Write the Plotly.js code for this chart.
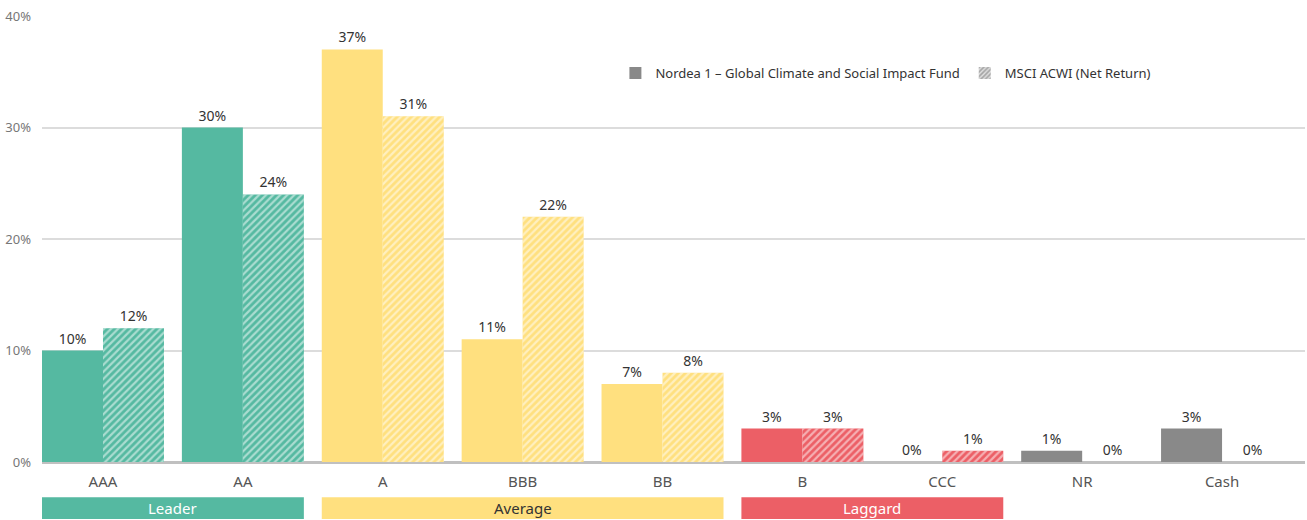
<!DOCTYPE html>
<html>
<head>
<meta charset="utf-8">
<script src="https://cdn.plot.ly/plotly-3.0.1.min.js"></script>
<style>html,body{margin:0;padding:0;background:#fff;}#chart{width:1307px;height:520px;}</style>
</head>
<body>
<div id="chart"></div>
<script>
const categories = ['AAA', 'AA', 'A', 'BBB', 'BB', 'B', 'CCC', 'NR', 'Cash'];
const fundValues = [10, 30, 37, 11, 7, 3, 0, 1, 3];
const benchValues = [12, 24, 31, 22, 8, 3, 1, 0, 0];
const categoryColors = ['#55B9A1', '#55B9A1', '#FFE07F', '#FFE07F', '#FFE07F', '#EC5F66', '#EC5F66', '#898989', '#898989'];
const fundName = 'Nordea 1 – Global Climate and Social Impact Fund';
const benchName = 'MSCI ACWI (Net Return)';
const groupNames = ['Leader', 'Average', 'Laggard'];
const groupStart = ['AAA', 'A', 'B'];
const groupEnd = ['AA', 'BB', 'CCC'];
const groupColors = ['#55B9A1', '#FFE07F', '#EC5F66'];
const groupTextColors = ['#ffffff', '#333333', '#ffffff'];
const yTicks = [0, 10, 20, 30, 40];
const yTickText = ['0%', '10%', '20%', '30%', '40%'];

const FONT = 'Noto Sans, Open Sans, sans-serif';
const idx = c => categories.indexOf(c);
const half = 0.436;
const pct = v => v + '%';

const traces = [
  {
    type: 'bar', x: categories, y: fundValues, name: fundName, showlegend: false, offsetgroup: 'fund',
    marker: {color: categoryColors, line: {width: 0}},
    text: fundValues.map(pct), texttemplate: '%{text}', textposition: 'outside', cliponaxis: false,
    textfont: {family: FONT, size: 14, color: '#333'}, hoverinfo: 'skip'
  },
  {
    type: 'bar', x: categories, y: benchValues, name: benchName, showlegend: false, offsetgroup: 'bench',
    marker: {color: categoryColors, line: {width: 0}},
    text: benchValues.map(pct), texttemplate: '%{text}', textposition: 'outside', cliponaxis: false,
    textfont: {family: FONT, size: 14, color: '#333'}, hoverinfo: 'skip'
  },
  {
    type: 'bar', x: categories, y: benchValues, name: benchName + ' hatch', showlegend: false, offsetgroup: 'bench',
    marker: {color: 'rgba(0,0,0,0)', line: {width: 0},
      pattern: {shape: '/', fillmode: 'replace', bgcolor: 'rgba(0,0,0,0)', fgcolor: '#ffffff', fgopacity: 0.5, size: 5, solidity: 0.45}},
    hoverinfo: 'skip'
  },
  {
    type: 'bar', x: [null], y: [null], name: fundName, xaxis: 'x2', yaxis: 'y2',
    marker: {color: '#898989'}
  },
  {
    type: 'bar', x: [null], y: [null], name: benchName, xaxis: 'x2', yaxis: 'y2',
    marker: {color: '#a8a8a8', pattern: {shape: '/', fillmode: 'overlay', bgcolor: '#a8a8a8', fgcolor: '#ffffff', fgopacity: 0.7, size: 4, solidity: 0.4}}
  }
];

const shapes = [];
const annotations = [];
groupNames.forEach((g, i) => {
  const x0 = idx(groupStart[i]) - half;
  const x1 = idx(groupEnd[i]) + half;
  shapes.push({type: 'rect', xref: 'x', yref: 'paper', x0: x0, x1: x1, y0: -0.128, y1: -0.079,
    fillcolor: groupColors[i], line: {width: 0}, layer: 'above'});
  annotations.push({xref: 'x', yref: 'paper', x: (x0 + x1) / 2, y: -0.1035, text: g, showarrow: false,
    xanchor: 'center', yanchor: 'middle', font: {family: FONT, size: 15, color: groupTextColors[i]}});
});

const layout = {
  width: 1307, height: 520,
  margin: {l: 42, r: 2, t: 16, b: 58},
  paper_bgcolor: '#fff', plot_bgcolor: '#fff',
  barmode: 'group', bargap: 0.128, bargroupgap: 0,
  font: {family: FONT, color: '#333'},
  xaxis: {
    type: 'category', categoryorder: 'array', categoryarray: categories,
    range: [-half, 8.593], showgrid: false, zeroline: false, showline: false,
    ticks: '', ticklabelstandoff: 9,
    tickfont: {family: FONT, size: 15, color: '#555'}
  },
  yaxis: {
    range: [0, 40], tickmode: 'array', tickvals: yTicks, ticktext: yTickText,
    showgrid: true, gridcolor: '#dcdcdc', gridwidth: 2,
    zeroline: true, zerolinecolor: '#c0c0c0', zerolinewidth: 3,
    showline: false, ticks: '', ticklabelstandoff: 10,
    tickfont: {family: FONT, size: 13, color: '#777'}
  },
  xaxis2: {overlaying: 'x', visible: false, range: [0, 1]},
  yaxis2: {overlaying: 'y', visible: false, range: [0, 1]},
  legend: {
    orientation: 'h', x: 0.454, y: 0.872, xanchor: 'left', yanchor: 'middle',
    font: {family: FONT, size: 13, color: '#333'}, bgcolor: 'rgba(0,0,0,0)',
    itemwidth: 30, traceorder: 'normal'
  },
  shapes: shapes,
  annotations: annotations,
  showlegend: true
};

Plotly.newPlot('chart', traces, layout, {displayModeBar: false, staticPlot: true});
</script>
</body>
</html>
